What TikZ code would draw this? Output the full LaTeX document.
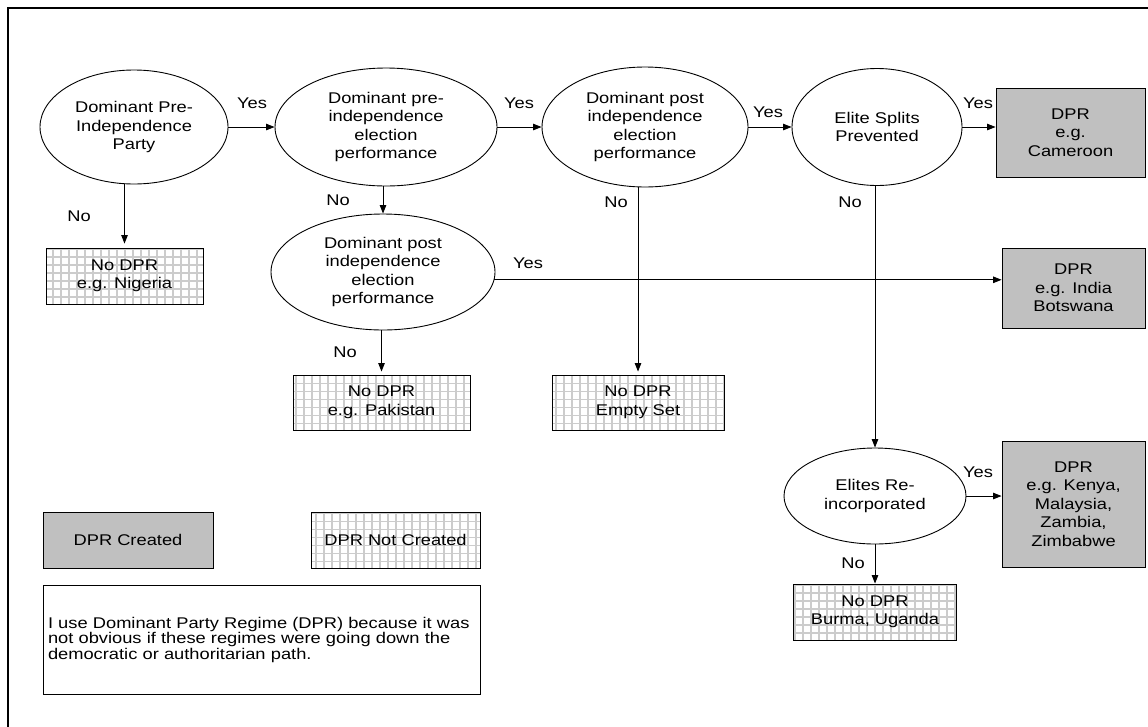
\documentclass[tikz,border=0pt]{standalone}
\usepackage{fontspec}
\setmainfont{Liberation Sans}[FakeStretch=1.18]
\usetikzlibrary{shapes.geometric,arrows.meta,calc}
\definecolor{dprgray}{HTML}{C0C0C0}
\definecolor{gridgray}{HTML}{CCCCCC}
\tikzset{
 every node/.style={font=\fontsize{15.5}{18.5}\selectfont, align=center, inner sep=0pt},
 conn/.style={line width=0.9pt},
 ell/.style={draw, ellipse, conn},
 yesbox/.style={draw, fill=dprgray, conn},
 nobox/.style={draw, conn, fill=white, path picture={\draw[gridgray, line width=1.8pt] ([xshift=-10pt,yshift=-10pt]path picture bounding box.south west) grid[step=8pt] ([xshift=10pt,yshift=10pt]path picture bounding box.north east);}},
 arr/.style={conn, -{Triangle[length=8.5pt,width=6.5pt]}},
}
\begin{document}
\begin{tikzpicture}[x=1pt,y=-1pt]
\useasboundingbox (0,0) rectangle (1148,726);
\draw[line width=2.4pt] (8,730) -- (8,8) -- (1150,8);

\node[ell, minimum width=188pt, minimum height=114pt] (e1) at (134,127) {Dominant Pre-\\Independence\\Party};
\node[ell, minimum width=222pt, minimum height=118pt] (e2) at (386,127) {Dominant pre-\\independence\\election\\performance};
\node[ell, minimum width=206pt, minimum height=120pt] (e3) at (645,127) {Dominant post\\independence\\election\\performance};
\node[ell, minimum width=170pt, minimum height=117pt] (e4) at (877,127) {Elite Splits\\Prevented};
\node[yesbox, minimum width=149pt, minimum height=89pt] (cam) at (1070.5,132.5) {DPR\\e.g.\\Cameroon};
\node[nobox, minimum width=157pt, minimum height=56pt] (nig) at (124.5,276) {No DPR\\e.g. Nigeria};
\node[ell, minimum width=224pt, minimum height=116pt] (e3b) at (383,272) {Dominant post\\independence\\election\\performance};
\node[yesbox, minimum width=143pt, minimum height=80pt] (ind) at (1073.5,288) {DPR\\e.g. India\\Botswana};
\node[nobox, minimum width=177pt, minimum height=55pt] (pak) at (381.5,402.5) {No DPR\\e.g. Pakistan};
\node[nobox, minimum width=172pt, minimum height=55pt] (emp) at (638,402.5) {No DPR\\Empty Set};
\node[ell, minimum width=182pt, minimum height=96pt] (e5) at (875,496) {Elites Re-\\incorporated};
\node[yesbox, minimum width=143pt, minimum height=126pt] (ken) at (1073.5,504) {DPR\\e.g. Kenya,\\Malaysia,\\Zambia,\\Zimbabwe};
\node[nobox, minimum width=163pt, minimum height=56pt] (bur) at (875,612) {No DPR\\Burma, Uganda};
\node[yesbox, minimum width=170pt, minimum height=56pt] (leg1) at (128,540) {DPR Created};
\node[nobox, minimum width=169pt, minimum height=56pt] (leg2) at (395.5,540) {DPR Not Created};
\node[draw, conn, minimum width=437pt, minimum height=109pt, text width=427pt, align=left, font=\fontsize{15.5}{15.5}\selectfont] (note) at (261.5,639.5) {I use Dominant Party Regime (DPR) because it was not obvious if these regimes were going down the democratic or authoritarian path.};

\draw[arr] (e1) -- (e2);
\draw[arr] (e2) -- (e3);
\draw[arr] (e3) -- (e4);
\draw[arr] (e4) -- (e4 -| cam.west);
\draw[arr, shorten >=4pt] (nig.north |- e1.south) -- (nig.north);
\draw[arr] (e3b.north |- e2.south) -- (e3b.north);
\draw[arr, shorten >=3pt] (pak.north |- e3b.south) -- (pak.north);
\draw[arr, shorten >=3pt] (emp.north |- e3.south) -- (emp.north);
\draw[arr] (e3b.-4) -- (e3b.-4 -| ind.west);
\draw[arr] (e5.north |- e4.south) -- (e5.north);
\draw[arr] (e5) -- (e5 -| ken.west);
\draw[arr] (e5.south) -- (bur.north);

\node (y1) at (252,103) {Yes};
\node (y2) at (519,103) {Yes};
\node (y3) at (768,112) {Yes};
\node (y4) at (978,103) {Yes};
\node (n1) at (79,216) {No};
\node (n2) at (338,200) {No};
\node (n3) at (616,202) {No};
\node (n4) at (850,202) {No};
\node (y5) at (528,263) {Yes};
\node (n5) at (345,352) {No};
\node (y6) at (978,472) {Yes};
\node (n6) at (853,563) {No};
\end{tikzpicture}
\end{document}
